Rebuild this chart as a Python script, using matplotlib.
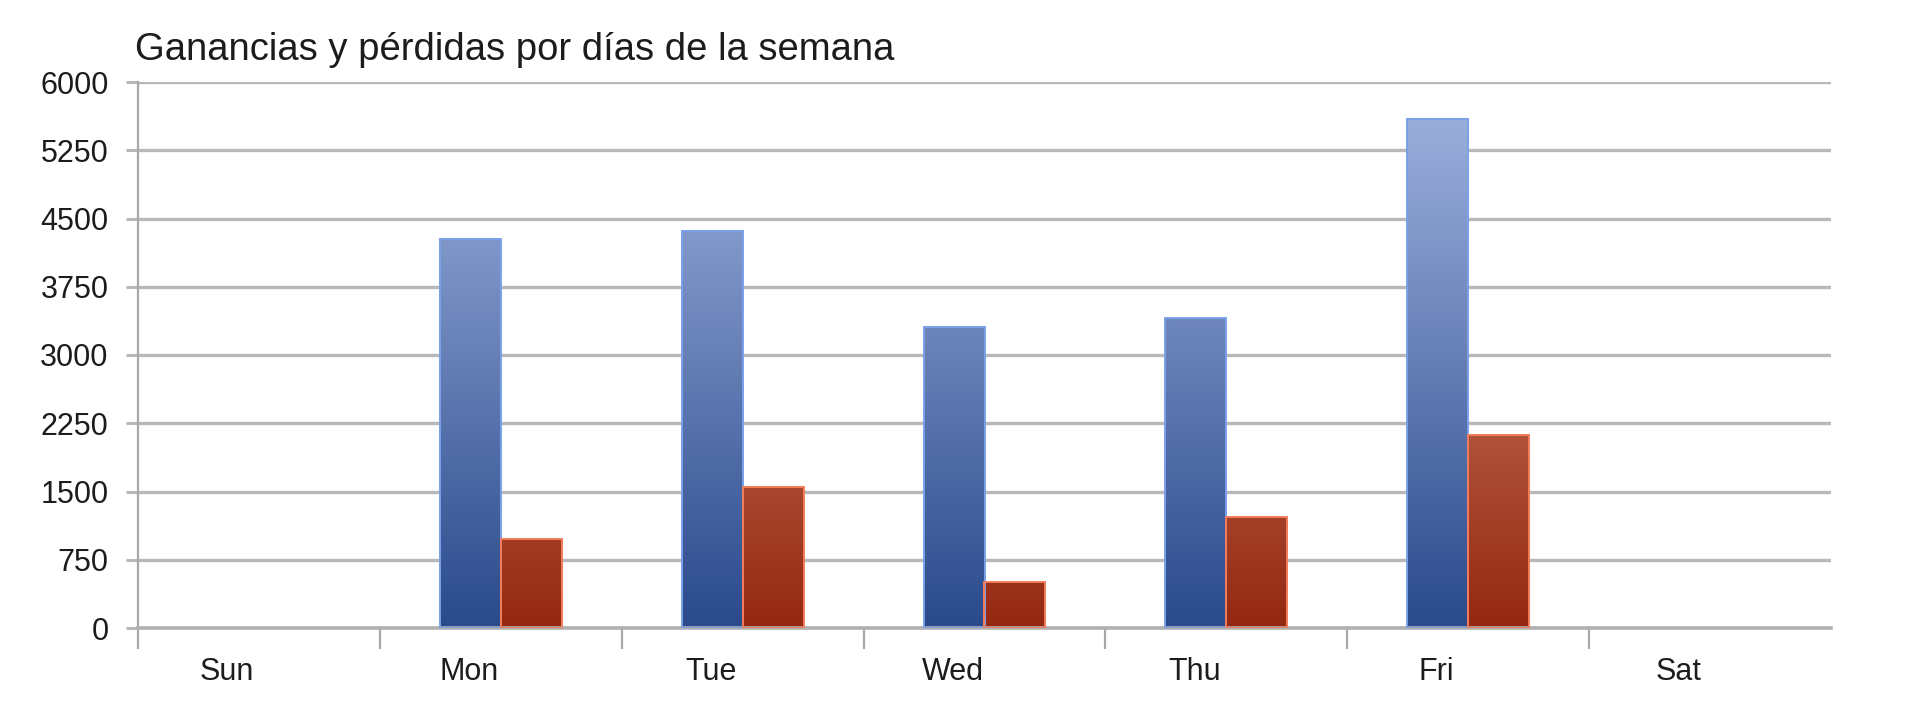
import matplotlib
matplotlib.use('Agg')
import matplotlib.pyplot as plt
import numpy as np
from matplotlib.colors import LinearSegmentedColormap, Normalize
from matplotlib.transforms import ScaledTranslation

# ---- data ----
days = ['Sun', 'Mon', 'Tue', 'Wed', 'Thu', 'Fri', 'Sat']
ganancias = [0, 4280, 4360, 3310, 3410, 5590, 0]
perdidas = [0, 980, 1545, 505, 1215, 2120, 0]
yticks = [0, 750, 1500, 2250, 3000, 3750, 4500, 5250, 6000]
title = 'Ganancias y pérdidas por días de la semana'

FONT = ['Liberation Sans', 'DejaVu Sans']
plt.rcParams['font.family'] = FONT
TXT = '#1c1c1c'

W, H = 1920, 720
fig = plt.figure(figsize=(W / 100, H / 100), dpi=100)
left, right, top, bottom = 138, 1831, 82, 628
ax = fig.add_axes([left / W, 1 - bottom / H, (right - left) / W, (bottom - top) / H])

x = np.arange(len(days))
bw = 0.252

blue_cmap = LinearSegmentedColormap.from_list('b', ['#2a4a8c', '#9aaedb'])
red_cmap = LinearSegmentedColormap.from_list('r', ['#942811', '#b0523a'])

bars_g = ax.bar(x - bw / 2, ganancias, bw, facecolor='none', edgecolor='#7ba0ea',
                linewidth=1.4, zorder=3)
bars_p = ax.bar(x + bw / 2, perdidas, bw, facecolor='none', edgecolor='#f27c5a',
                linewidth=1.4, zorder=3)


def gradient_fill(bars, cmap, vmax):
    for b in bars:
        x0, y0 = b.get_x(), b.get_y()
        w, h = b.get_width(), b.get_height()
        if h <= 0:
            b.set_edgecolor('none')
            continue
        grad = np.linspace(y0, y0 + h, 256).reshape(-1, 1)
        im = ax.imshow(grad, extent=(x0, x0 + w, y0, y0 + h), origin='lower',
                       aspect='auto', cmap=cmap, norm=Normalize(0, vmax), zorder=2.5,
                       interpolation='bilinear')
        im.set_clip_path(b)


gradient_fill(bars_g, blue_cmap, max(ganancias))
gradient_fill(bars_p, red_cmap, max(perdidas))

ax.set_xlim(-0.5, len(days) - 0.5)
ax.set_ylim(0, 6000)

# y axis
ax.set_yticks(yticks)
ax.set_yticklabels([str(v) for v in yticks], fontsize=22, color=TXT)
ax.tick_params(axis='y', length=8.6, width=2.2, color='#b8b8b8', pad=12.5)
ax.set_axisbelow(True)
ax.yaxis.grid(True, color='#b8b8b8', linewidth=2.4)

# x axis
ax.set_xticks(x)
ax.set_xticklabels(days, fontsize=22, color=TXT)
ax.set_xticks(np.arange(-0.5, len(days) - 1, 1), minor=True)
ax.tick_params(axis='x', which='major', length=0, pad=21)
ax.tick_params(axis='x', which='minor', length=15, width=1.6, color='#a8a8a8')
off = ScaledTranslation(-0.32, 0, fig.dpi_scale_trans)
for lab in ax.get_xticklabels():
    lab.set_transform(lab.get_transform() + off)

for s in ['top', 'right']:
    ax.spines[s].set_visible(False)
ax.spines['left'].set_color('#a8a8a8')
ax.spines['left'].set_linewidth(1.6)
ax.spines['bottom'].set_color('#b0b0b0')
ax.spines['bottom'].set_linewidth(2.6)

fig.text(135 / W, 1 - 60 / H, title, fontsize=27.5, color=TXT, ha='left', va='baseline')

fig.savefig('out.png', dpi=100, facecolor='white')
